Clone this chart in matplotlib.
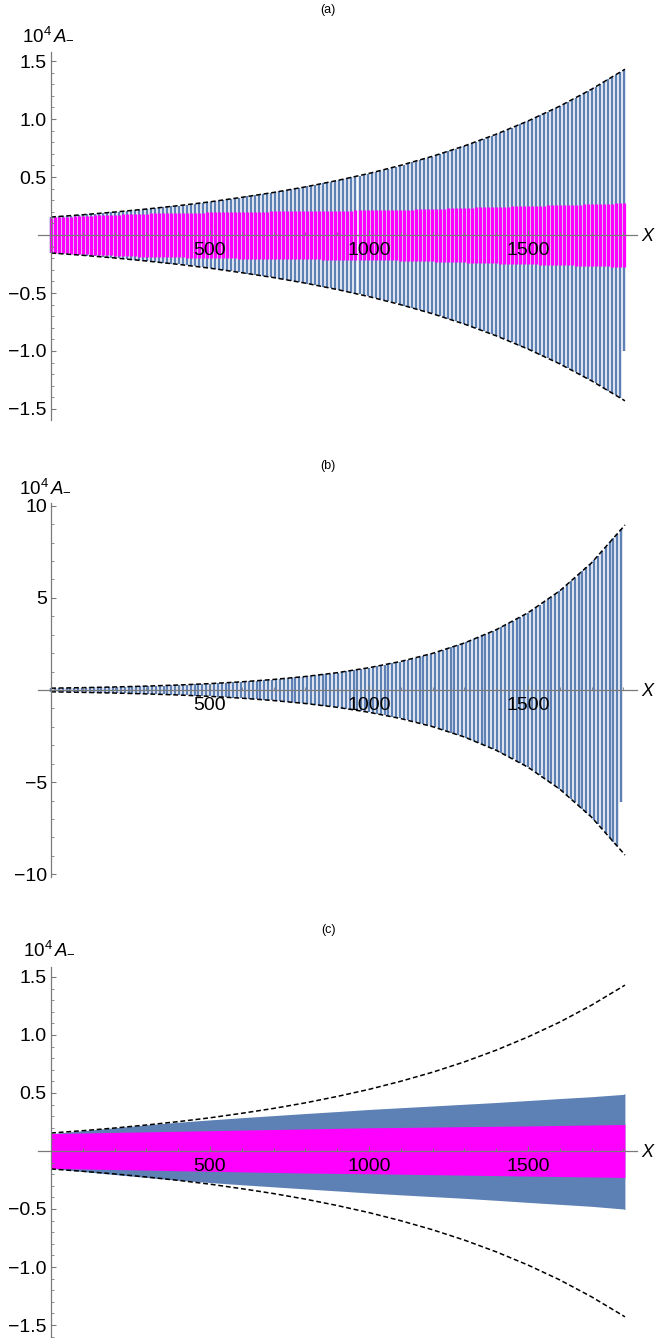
import numpy as np
import matplotlib
matplotlib.use("Agg")
import matplotlib.pyplot as plt
from matplotlib.ticker import FixedLocator, FixedFormatter, MultipleLocator
import matplotlib.transforms as mtransforms

plt.rcParams['font.family'] = ['Liberation Sans', 'DejaVu Sans']
plt.rcParams['mathtext.fontset'] = 'custom'
plt.rcParams['mathtext.rm'] = 'Liberation Sans'
plt.rcParams['mathtext.it'] = 'Liberation Sans:italic'

# ---------------- data ----------------
x_grid = [0, 100, 200, 300, 400, 500, 600, 700, 800, 900, 1000,
          1100, 1200, 1300, 1400, 1500, 1600, 1700, 1800, 1805]

# panel (a) / (c): dashed envelope (10^4 A_-)
env_ac = [0.155, 0.175, 0.198, 0.224, 0.253, 0.286, 0.325, 0.367, 0.415, 0.470,
          0.531, 0.601, 0.679, 0.768, 0.869, 0.983, 1.111, 1.257, 1.421, 1.430]
# panel (a): magenta oscillation amplitude (upper / lower)
mag_a_top = [0.150, 0.165, 0.175, 0.185, 0.190, 0.195, 0.200, 0.203, 0.206, 0.210,
             0.213, 0.217, 0.225, 0.235, 0.243, 0.250, 0.258, 0.265, 0.274, 0.276]
mag_a_bot = [-0.150, -0.165, -0.178, -0.188, -0.193, -0.198, -0.203, -0.206, -0.209, -0.213,
             -0.216, -0.220, -0.228, -0.237, -0.245, -0.252, -0.260, -0.267, -0.275, -0.277]

# panel (b): dashed envelope
env_b = [0.10, 0.128, 0.165, 0.211, 0.271, 0.347, 0.445, 0.572, 0.733, 0.940,
         1.21, 1.55, 1.99, 2.55, 3.27, 4.19, 5.38, 6.90, 8.85, 8.96]

# panel (c): blue band and magenta band
blue_c_top = [0.150, 0.175, 0.200, 0.225, 0.248, 0.268, 0.287, 0.305, 0.323, 0.340,
              0.358, 0.373, 0.388, 0.403, 0.418, 0.435, 0.452, 0.468, 0.488, 0.495]
blue_c_bot = [-0.150, -0.177, -0.203, -0.228, -0.252, -0.272, -0.291, -0.309, -0.327, -0.344,
              -0.362, -0.378, -0.393, -0.408, -0.425, -0.443, -0.460, -0.477, -0.500, -0.505]
mag_c_top = [0.150, 0.155, 0.160, 0.165, 0.170, 0.175, 0.180, 0.185, 0.190, 0.195,
             0.200, 0.203, 0.206, 0.210, 0.213, 0.216, 0.220, 0.224, 0.228, 0.230]
mag_c_bot = [-0.150, -0.155, -0.160, -0.165, -0.170, -0.175, -0.180, -0.185, -0.190, -0.193,
             -0.196, -0.200, -0.204, -0.208, -0.212, -0.216, -0.220, -0.224, -0.228, -0.230]

cycle_a = 12.6     # oscillation period (X units) in (a)
cycle_b = 12.2     # oscillation period in (b)
last_frac = 0.7    # last (partial) downswing reaches this fraction

x_major = [500, 1000, 1500]
x_major_labels = ["500", "1000", "1500"]
y_major_ac = [-1.5, -1.0, -0.5, 0.5, 1.0, 1.5]
y_major_ac_labels = ["\u22121.5", "\u22121.0", "\u22120.5", "0.5", "1.0", "1.5"]
y_major_b = [-10, -5, 5, 10]
y_major_b_labels = ["\u221210", "\u22125", "5", "10"]

panel_titles = ["(a)", "(b)", "(c)"]

BLUE = "#5E81B5"
MAG = "#FF00FF"
AXC = "#7a7a7a"

# ---------------- figure ----------------
W, H = 656, 1338
fig = plt.figure(figsize=(W / 100, H / 100), dpi=100)

def px_axes(top, bottom):
    left, right = 38, 637
    return fig.add_axes([left / W, 1 - bottom / H, (right - left) / W, (bottom - top) / H])

ax_a = px_axes(52, 420)
ax_b = px_axes(503, 877)
ax_c = px_axes(967, 1338)

def style(ax, ylim, ymaj, ylab, yminor):
    ax.set_xlim(-41, 1843)
    ax.set_ylim(*ylim)
    for s in ['top', 'right']:
        ax.spines[s].set_visible(False)
    ax.spines['left'].set_position(('data', 0))
    ax.spines['bottom'].set_position(('data', 0))
    for s in ['left', 'bottom']:
        ax.spines[s].set_color(AXC)
        ax.spines[s].set_linewidth(0.9)
        ax.spines[s].set_zorder(5)
    ax.xaxis.set_zorder(6)
    ax.yaxis.set_zorder(6)
    ax.xaxis.set_major_locator(FixedLocator(x_major))
    ax.xaxis.set_major_formatter(FixedFormatter(x_major_labels))
    ax.xaxis.set_minor_locator(MultipleLocator(100))
    ax.yaxis.set_major_locator(FixedLocator(ymaj))
    ax.yaxis.set_major_formatter(FixedFormatter(ylab))
    ax.yaxis.set_minor_locator(MultipleLocator(yminor))
    ax.tick_params(which='major', direction='in', length=3.5, width=0.8, color=AXC,
                   labelsize=14, labelcolor='black')
    ax.tick_params(which='minor', direction='in', length=2, width=0.6, color=AXC)
    ax.tick_params(axis='x', which='major', pad=5)
    ax.tick_params(axis='y', which='major', pad=3)
    ax.patch.set_alpha(0)
    ax.annotate("X", xy=(1, 0), xycoords=mtransforms.blended_transform_factory(ax.transAxes, ax.transData),
                xytext=(3, -1), textcoords='offset points', ha='left', va='center',
                fontsize=13, style='italic', annotation_clip=False)

def strokes(ax, period, env_top, env_bot, color, lw, z):
    pos = np.arange(0, x_grid[-1] + 0.01, period)
    top = np.interp(pos, x_grid, env_top)
    bot = np.interp(pos, x_grid, env_bot)
    bot[-1] = bot[-1] * last_frac if color == BLUE else bot[-1]
    ax.vlines(pos, bot, top, colors=color, linewidth=lw, zorder=z)

def envelope(ax, env):
    e = np.asarray(env)
    for sgn in (1, -1):
        ax.plot(x_grid, sgn * e, color='black', lw=1.1, dashes=(3.2, 1.8), zorder=4)

# (a)
style(ax_a, (-1.595, 1.578), y_major_ac, y_major_ac_labels, 0.1)
env_a_neg = [-v for v in env_ac]
strokes(ax_a, cycle_a, env_ac, env_a_neg, BLUE, 1.75, 2)
strokes(ax_a, cycle_a, mag_a_top, mag_a_bot, MAG, 2.3, 3)
envelope(ax_a, env_ac)

# (b)
style(ax_b, (-10.15, 10.15), y_major_b, y_major_b_labels, 1)
env_b_neg = [-v for v in env_b]
strokes(ax_b, cycle_b, env_b, env_b_neg, BLUE, 1.75, 2)
envelope(ax_b, env_b)

# (c)
style(ax_c, (-1.612, 1.586), y_major_ac, y_major_ac_labels, 0.1)
ax_c.fill_between(x_grid, blue_c_bot, blue_c_top, color=BLUE, lw=0, zorder=2)
ax_c.fill_between(x_grid, mag_c_bot, mag_c_top, color=MAG, lw=0, zorder=3)
envelope(ax_c, env_ac)

# y-axis labels and panel titles
for y_lab, y_tit, x_lab, t in [(35, 10, 22, panel_titles[0]),
                               (487, 466, 19, panel_titles[1]),
                               (949, 930, 23, panel_titles[2])]:
    fig.text(x_lab / W, 1 - y_lab / H, r"$10^4\,A_{-}$", fontsize=13.5, ha='left', va='center')
    fig.text(328 / W, 1 - y_tit / H, t, fontsize=9, ha='center', va='center')

fig.savefig("out.png", dpi=100)
